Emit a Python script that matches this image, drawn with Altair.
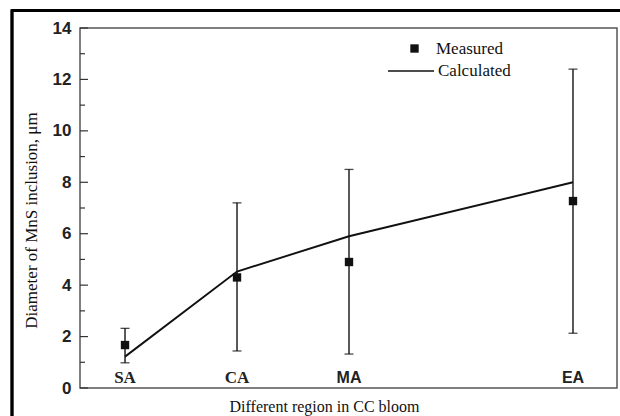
import altair as alt
import pandas as pd

# ---- data ----
regions = ["SA", "CA", "MA", "EA"]
region_pos = [1, 2, 3, 5]
measured = [1.67, 4.3, 4.9, 7.27]
err_low = [0.98, 1.44, 1.32, 2.13]
err_high = [2.32, 7.2, 8.5, 12.4]
calculated = [1.22, 4.53, 5.9, 8.0]
label_family = ["serif", "serif", "sans", "sans"]
major_ticks = [0, 2, 4, 6, 8, 10, 12, 14]
minor_ticks = [1, 3, 5, 7, 9, 11, 13]

df = pd.DataFrame({
    "region": regions,
    "pos": region_pos,
    "measured": measured,
    "lo": err_low,
    "hi": err_high,
    "calc": calculated,
    "family": label_family,
    "m": ["Measured"] * 4,
    "c": ["Calculated"] * 4,
})
maj = pd.DataFrame({"t": major_ticks})
mnr = pd.DataFrame({"t": minor_ticks})

SERIF = "Liberation Serif"
SANS = "Liberation Sans"

xs = alt.Scale(domain=[0.598, 5.393], nice=False, zero=False)
ys = alt.Scale(domain=[0, 14], nice=False)

base = alt.Chart(df)

xenc = alt.X("pos:Q", scale=xs,
             axis=alt.Axis(labels=False, ticks=False, domain=False, grid=False,
                           title="Different region in CC bloom",
                           titleFont=SERIF, titleFontSize=16, titleFontWeight="normal",
                           titleColor="#111", titleX=244, titleY=23,
                           titleBaseline="alphabetic"))
yaxis = alt.Axis(values=major_ticks, ticks=False, domain=False, grid=False,
                 labelFont=SANS, labelFontSize=17, labelFontWeight="bold",
                 labelColor="#222", labelPadding=9,
                 title="Diameter of MnS inclusion, μm",
                 titleFont=SERIF, titleFontSize=17, titleFontWeight="normal",
                 titleColor="#111", titleX=-44, titleY=192,
                 titleBaseline="alphabetic")

err = base.mark_rule(color="#000", strokeWidth=1.3).encode(
    x=xenc, y=alt.Y("lo:Q", scale=ys, axis=yaxis), y2="hi:Q")
cap_lo = base.mark_tick(color="#000", orient="horizontal", size=9, thickness=1.3).encode(
    x="pos:Q", y="lo:Q")
cap_hi = base.mark_tick(color="#000", orient="horizontal", size=9, thickness=1.3).encode(
    x="pos:Q", y="hi:Q")

line = base.mark_line(strokeWidth=1.9).encode(
    x="pos:Q", y="calc:Q",
    color=alt.Color("c:N", scale=alt.Scale(domain=["Calculated"], range=["#111"]),
                    legend=alt.Legend(title=None, orient="none", legendX=307, legendY=19,
                                      symbolType="stroke", symbolSize=2116,
                                      symbolStrokeWidth=1.5, labelOffset=3,
                                      labelFont=SERIF, labelFontSize=17,
                                      labelColor="#111")))

pts = base.mark_point(filled=True, opacity=1, color="#111", size=70).encode(
    x="pos:Q", y="measured:Q",
    shape=alt.Shape("m:N", scale=alt.Scale(domain=["Measured"], range=["square"]),
                    legend=alt.Legend(title=None, orient="none", legendX=326, legendY=12,
                                      symbolSize=70, symbolFillColor="#111",
                                      symbolStrokeColor="#111", symbolStrokeWidth=0,
                                      labelOffset=13, labelFont=SERIF, labelFontSize=17,
                                      labelColor="#111")))

lab_serif = base.transform_filter(alt.datum.family == "serif").mark_text(
    font=SERIF, fontSize=17, fontWeight="bold", color="#222", baseline="alphabetic",
    align="center").encode(x="pos:Q", y=alt.value(355), text="region:N")
lab_sans = base.transform_filter(alt.datum.family == "sans").mark_text(
    font=SANS, fontSize=16, fontWeight="bold", color="#222", baseline="alphabetic",
    align="center").encode(x="pos:Q", y=alt.value(355), text="region:N")

tick_major = alt.Chart(maj).mark_rule(color="#333", strokeWidth=1.2).encode(
    y=alt.Y("t:Q", scale=ys), x=alt.value(0), x2=alt.value(8))
tick_minor = alt.Chart(mnr).mark_rule(color="#333", strokeWidth=1.2).encode(
    y=alt.Y("t:Q", scale=ys), x=alt.value(0), x2=alt.value(5))

border_top = alt.Chart(df).mark_rule(color="black", strokeWidth=2.5).encode(
    x=alt.value(-68), x2=alt.value(545), y=alt.value(-17.5))
border_left = alt.Chart(df).mark_rule(color="black", strokeWidth=2.5).encode(
    x=alt.value(-68), y=alt.value(-18.5), y2=alt.value(400))

chart = alt.layer(
    border_top, border_left, tick_major, tick_minor,
    err, cap_lo, cap_hi, line, pts, lab_serif, lab_sans
).resolve_legend(color="independent", shape="independent").properties(
    width=537, height=360,
    autosize=alt.AutoSizeParams(type="none"),
    padding={"left": 80, "top": 28, "right": 3, "bottom": 28},
    background="white",
).configure_view(stroke="#555", strokeWidth=1.5).configure_legend(padding=0)

chart.save("out.html", embed_options={"renderer": "svg", "actions": False})
